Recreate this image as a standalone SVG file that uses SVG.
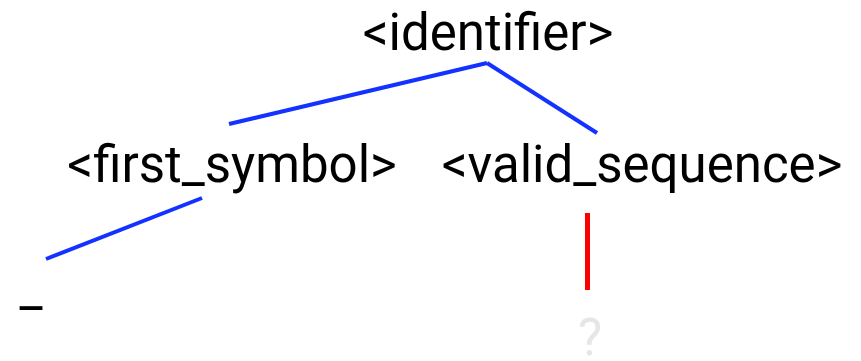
<svg xmlns="http://www.w3.org/2000/svg" width="861" height="361" viewBox="0 0 861 361">
  <style>
    .lbl { font-family: Roboto, "Liberation Sans", sans-serif; font-size: 51px; fill: #000; text-anchor: middle; }
    .edge { stroke: #1432ff; stroke-width: 4; stroke-linecap: butt; fill: none; }
    .hole { stroke: #ff0000; stroke-width: 5; fill: none; }
    .pending { fill: #e6e6e6; }
  </style>
  <rect width="861" height="361" fill="#ffffff"/>
  <g id="connectors">
    <line class="edge" x1="487" y1="63" x2="229" y2="124"/>
    <line class="edge" x1="487" y1="63" x2="597" y2="133"/>
    <line class="edge" x1="202" y1="198" x2="46" y2="259"/>
    <line class="hole" x1="587.5" y1="213" x2="587.5" y2="290"/>
  </g>
  <g id="identifier">
    <text class="lbl" x="488" y="50">&lt;identifier&gt;</text>
  </g>
  <g id="first_symbol">
    <text class="lbl" x="232" y="182">&lt;first_symbol&gt;</text>
  </g>
  <g id="valid_sequence">
    <text class="lbl" x="642" y="182">&lt;valid_sequence&gt;</text>
  </g>
  <g id="underscore">
    <text class="lbl" x="31" y="306">_</text>
  </g>
  <g id="unknown">
    <text class="lbl pending" x="590" y="355">?</text>
  </g>
</svg>
